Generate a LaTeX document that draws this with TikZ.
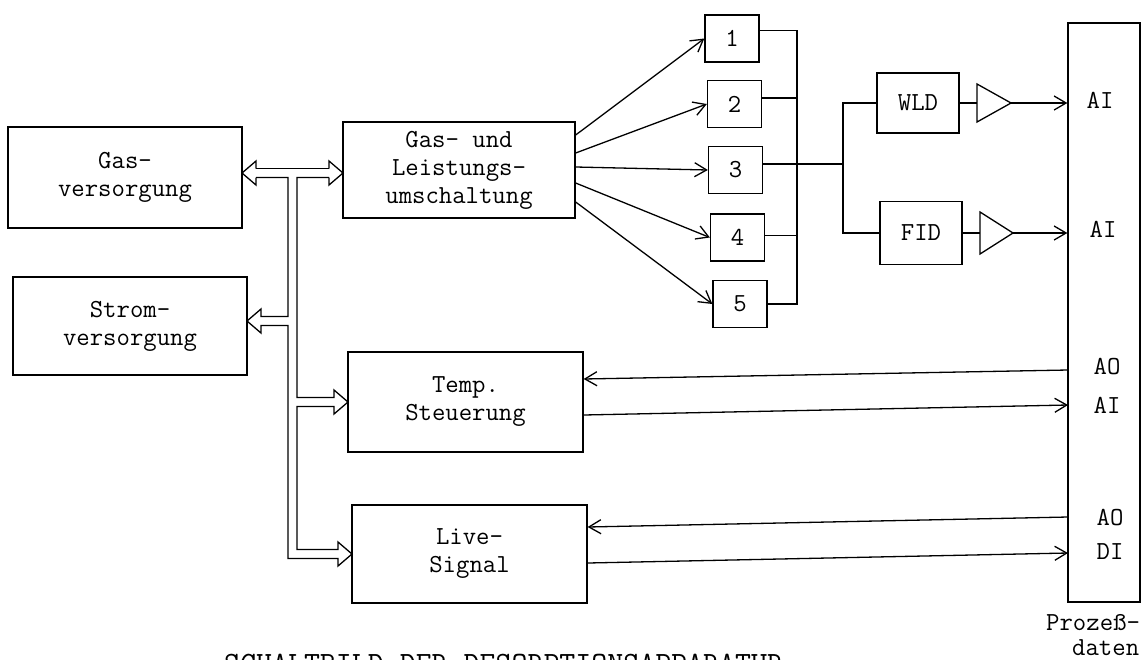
\documentclass[tikz,border=0pt]{standalone}
\usepackage{fontspec}
\usetikzlibrary{arrows.meta,calc}
\newcommand\dtxt{\fontsize{26}{28}\selectfont\ttfamily}
\newcommand\captxt{\fontsize{31}{31}\selectfont\ttfamily}
\begin{document}
\begin{tikzpicture}[x=1pt,y=-1pt,
  wire/.style={line width=1.3pt},
  blk/.style={draw,line width=1.3pt,inner sep=0pt,align=center,font=\dtxt},
  sbox/.style={blk,minimum width=54pt,minimum height=47pt},
  lbl/.style={inner sep=0pt,font=\dtxt},
  arr/.style={wire,-{Straight Barb[length=12pt,width=14pt,line width=1.3pt]}},
 ]
\useasboundingbox (0,0) rectangle (1147,659);

% main blocks
\node[blk,minimum width=234pt,minimum height=101pt] (gas) at (125,177.5) {Gas-\\versorgung};
\node[blk,minimum width=234pt,minimum height=98pt] (strom) at (130,326) {Strom-\\versorgung};
\node[blk,minimum width=232pt,minimum height=96pt] (gasund) at (459,170) {Gas- und\\Leistungs-\\umschaltung};
\node[blk,minimum width=235pt,minimum height=100pt] (temp) at (465.5,402) {Temp.\\Steuerung};
\node[blk,minimum width=235pt,minimum height=98pt] (live) at (469.5,554) {Live-\\Signal};

% small boxes
\node[sbox] (b1) at (732,38.5) {1};
\node[sbox] (b2) at (734.5,104) {2};
\node[sbox] (b3) at (735.5,170) {3};
\node[sbox] (b4) at (737.5,237.5) {4};
\node[sbox] (b5) at (740,304) {5};

% detectors
\node[blk,minimum width=82pt,minimum height=60pt] (wld) at (918,103) {WLD};
\node[blk,minimum width=82pt,minimum height=63pt] (fid) at (921,233) {FID};

% process data box
\node[draw,wire,minimum width=72pt,minimum height=579pt,inner sep=0pt] (proz) at (1104,312.5) {};
\node[lbl] (ai1) at (1100,100) {AI};
\node[lbl] (ai2) at (1103,229) {AI};
\node[lbl] (ao1) at (1107,367) {AO};
\node[lbl] (ai3) at (1107,405) {AI};
\node[lbl] (ao2) at (1110,518) {AO};
\node[lbl] (di1) at (1110,552) {DI};
\node[lbl,anchor=base west] (pz1) at (1046,630) {Prozeß-};
\node[lbl,anchor=base west] (pz2) at (1072,655) {daten};

% caption (cut off at the bottom edge, as in the original)
\node[inner sep=0pt,anchor=base west,font=\captxt] (cap) at (224,673) {SCHALTBILD DER DESORPTIONSAPPARATUR};

% amplifiers
\draw[wire] (977,84) -- (1011,103) -- (977,122) -- cycle;
\coordinate (a1in) at (977,103);
\coordinate (a1out) at (1011,103);
\draw[wire] (980,212) -- (1013,233) -- (980,254) -- cycle;
\coordinate (a2in) at (980,233);
\coordinate (a2out) at (1013,233);

% hollow double-line bus
\draw[wire,line join=miter]
  (256,168.5) -- (329,168.5);
\draw[wire,line join=miter]
  (256,177.5) -- (256,185) -- (242,173) -- (256,161) -- (256,168.5);
\draw[wire,line join=miter]
  (329,168.5) -- (329,161) -- (343,173) -- (329,185) -- (329,177.5);
\draw[wire,line join=miter]
  (256,177.5) -- (288,177.5) -- (288,316.5) -- (261,316.5)
  -- (261,309) -- (247,321) -- (261,333) -- (261,325.5)
  -- (288,325.5) -- (288,558.5) -- (338,558.5)
  -- (338,566) -- (352,554) -- (338,542) -- (338,549.5)
  -- (297,549.5) -- (297,406.5) -- (334,406.5)
  -- (334,414) -- (348,402) -- (334,390) -- (334,397.5)
  -- (297,397.5) -- (297,177.5) -- (329,177.5);

% fan of arrows to the five boxes
\draw[arr] ($(gasund.east)+(0,-35)$) -- (b1.west);
\draw[arr] ($(gasund.east)+(0,-17)$) -- (b2.west);
\draw[arr] ($(gasund.east)+(0,-3)$) -- (b3.west);
\draw[arr] ($(gasund.east)+(0,13)$) -- (b4.west);
\draw[arr] ($(gasund.east)+(0,32)$) -- (b5.west);

% collecting line
\coordinate (ct) at (797,30.5);
\coordinate (cb) at (797,304);
\draw[wire] ($(b1.east)+(0,-8)$) -- (ct) -- (cb) -- (b5.east);
\draw[wire] ($(b2.east)+(0,-6)$) -- (797,98);
\draw[wire] ($(b4.east)+(0,-2)$) -- (797,235.5);
\coordinate (split) at (843,164);
\draw[wire] ($(b3.east)+(0,-6)$) -- (split);
\draw[wire] (wld.west) -- (wld.west -| split) -- (fid.west -| split) -- (fid.west);

% detectors to process box
\draw[wire] (wld.east) -- (a1in);
\draw[arr] (a1out) -- (a1out -| proz.west);
\draw[wire] (fid.east) -- (a2in);
\draw[arr] (a2out) -- (a2out -| proz.west);

% temperature control and live signal
\coordinate (pao1) at (1068,370);
\coordinate (pai3) at (1068,405);
\coordinate (pao2) at (1068,517);
\coordinate (pdi) at (1068,553);
\draw[arr] (pao1) -- ($(temp.east)+(0,-23)$);
\draw[arr] ($(temp.east)+(0,13)$) -- (pai3);
\draw[arr] (pao2) -- ($(live.east)+(0,-27)$);
\draw[arr] ($(live.east)+(0,9)$) -- (pdi);
\end{tikzpicture}
\end{document}
